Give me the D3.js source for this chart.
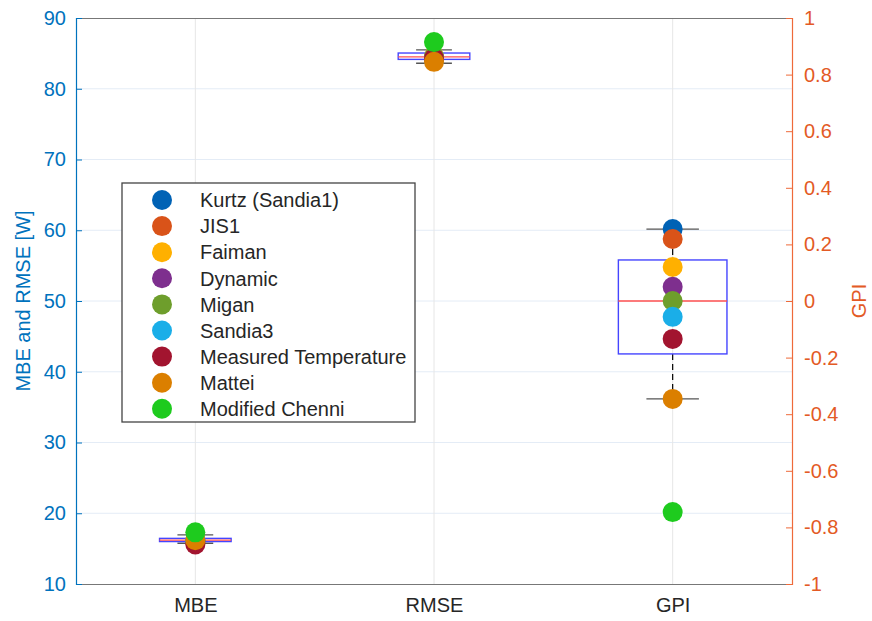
<!DOCTYPE html>
<html><head><meta charset="utf-8">
<script src="https://cdn.jsdelivr.net/npm/d3@7"></script>
<style>body{margin:0;background:#fff}svg{display:block;font-family:"Liberation Sans",Arial,sans-serif}</style>
</head><body><svg id="c" width="872" height="621"></svg>
<script>
const categories = ["MBE", "RMSE", "GPI"];
const models = ["Kurtz (Sandia1)", "JIS1", "Faiman", "Dynamic", "Migan", "Sandia3", "Measured Temperature", "Mattei", "Modified Chenni"];
const colors = ["#0062B5", "#D95319", "#FFB000", "#7E2F8E", "#6E9E2C", "#1AAEE8", "#A2142F", "#DB7F00", "#1ECB1E"];
const mbeValues = [16.1, 15.9, 16.3, 16.0, 16.1, 16.2, 15.6, 16.2, 17.3];
const rmseValues = [84.3, 84.2, 84.6, 84.4, 84.5, 84.0, 84.3, 83.8, 86.6];
const gpiValues = [0.254, 0.219, 0.12, 0.05, 0.0, -0.056, -0.134, -0.346, -0.746];
// box stats: [whiskerLow, q1, median, q3, whiskerHigh]
const mbeBox = [15.75, 16.0, 16.2, 16.45, 16.95];
const rmseBox = [83.6, 84.15, 84.5, 85.05, 85.5];
const gpiBox = [-0.346, -0.187, 0.0, 0.145, 0.254];
const leftTicks = [10, 20, 30, 40, 50, 60, 70, 80, 90];
const rightTicks = [-1, -0.8, -0.6, -0.4, -0.2, 0, 0.2, 0.4, 0.6, 0.8, 1];

const svg = d3.select("#c");
const L = 76, R = 792, T = 18, B = 584;
const x = d3.scaleLinear().domain([0.5, 3.5]).range([L, R]);
const yL = d3.scaleLinear().domain([10, 90]).range([B, T]);
const yR = d3.scaleLinear().domain([-1, 1]).range([B, T]);
const leftCol = "#0072BD", rightCol = "#EE6A3A", rightText = "#E35A25";
const FONT = "Liberation Sans, Arial";

// grid
const g = svg.append("g");
g.selectAll(".hg").data(leftTicks.slice(1, -1)).enter().append("line")
  .attr("x1", L).attr("x2", R).attr("y1", d => yL(d)).attr("y2", d => yL(d))
  .attr("stroke", "#E4ECF6").attr("stroke-width", 1);
g.selectAll(".vg").data([1, 2, 3]).enter().append("line")
  .attr("x1", d => x(d)).attr("x2", d => x(d)).attr("y1", T).attr("y2", B)
  .attr("stroke", "#E6E6E6").attr("stroke-width", 1);

// frame top/bottom
svg.append("line").attr("x1", L).attr("x2", R).attr("y1", T + 0.5).attr("y2", T + 0.5).attr("stroke", "#777");
svg.append("line").attr("x1", L).attr("x2", R).attr("y1", B + 0.5).attr("y2", B + 0.5).attr("stroke", "#777");

// boxes
const boxes = [
  {c: 1, s: mbeBox, y: yL, bw: 0.30, cw: 0.15},
  {c: 2, s: rmseBox, y: yL, bw: 0.30, cw: 0.15},
  {c: 3, s: gpiBox, y: yR, bw: 0.455, cw: 0.22}
];
boxes.forEach(b => {
  const [lo, q1, med, q3, hi] = b.s, y = b.y, cx = x(b.c);
  const hw = (x(b.bw) - x(0)) / 2, cw = (x(b.cw) - x(0)) / 2;
  svg.append("line").attr("x1", cx).attr("x2", cx).attr("y1", y(hi)).attr("y2", y(q3))
    .attr("stroke", "#000").attr("stroke-dasharray", "6,4").attr("stroke-width", 1.2);
  svg.append("line").attr("x1", cx).attr("x2", cx).attr("y1", y(q1)).attr("y2", y(lo))
    .attr("stroke", "#000").attr("stroke-dasharray", "6,4").attr("stroke-width", 1.2);
  [lo, hi].forEach(v => svg.append("line").attr("x1", cx - cw).attr("x2", cx + cw)
    .attr("y1", y(v)).attr("y2", y(v)).attr("stroke", "#555").attr("stroke-width", 1.4));
  svg.append("rect").attr("x", cx - hw).attr("y", y(q3)).attr("width", 2 * hw)
    .attr("height", Math.max(1, y(q1) - y(q3))).attr("fill", "none")
    .attr("stroke", "#4545FF").attr("stroke-width", 1.4);
  svg.append("line").attr("x1", cx - hw).attr("x2", cx + hw).attr("y1", y(med)).attr("y2", y(med))
    .attr("stroke", "#FF5050").attr("stroke-width", 1.4);
});

// points
const series = [
  {c: 1, v: mbeValues, y: yL},
  {c: 2, v: rmseValues, y: yL},
  {c: 3, v: gpiValues, y: yR}
];
series.forEach(s => {
  svg.append("g").selectAll("circle").data(s.v).enter().append("circle")
    .attr("cx", x(s.c)).attr("cy", d => s.y(d)).attr("r", 10)
    .attr("fill", (d, i) => colors[i]);
});

// left axis
const axL = svg.append("g").attr("transform", `translate(${L},0)`)
  .call(d3.axisLeft(yL).tickValues(leftTicks).tickSize(-6).tickPadding(10).tickFormat(d3.format("d")));
axL.select(".domain").attr("stroke", leftCol).attr("stroke-width", 1.2);
axL.selectAll(".tick line").attr("stroke", leftCol);
axL.selectAll(".tick text").attr("fill", leftCol).attr("font-size", 20).attr("font-family", FONT);

// right axis
const axR = svg.append("g").attr("transform", `translate(${R},0)`)
  .call(d3.axisRight(yR).tickValues(rightTicks).tickSize(-6).tickPadding(12));
axR.select(".domain").attr("stroke", rightCol).attr("stroke-width", 1.2);
axR.selectAll(".tick line").attr("stroke", rightCol);
axR.selectAll(".tick text").attr("fill", rightText).attr("font-size", 20).attr("font-family", FONT)
  .text(d => String(+d.toFixed(1)));

// bottom labels
const axB = svg.append("g").attr("transform", `translate(0,${B})`)
  .call(d3.axisBottom(x).tickValues([1, 2, 3]).tickSize(0).tickPadding(14).tickFormat((d, i) => categories[i]));
axB.select(".domain").remove();
axB.selectAll(".tick text").attr("fill", "#262626").attr("font-size", 20).attr("font-family", FONT);

// axis titles
svg.append("text").attr("transform", `translate(30,${(T + B) / 2}) rotate(-90)`)
  .attr("text-anchor", "middle").attr("fill", leftCol).attr("font-size", 20).text("MBE and RMSE [W]");
svg.append("text").attr("transform", `translate(866,${(T + B) / 2}) rotate(-90)`)
  .attr("text-anchor", "middle").attr("fill", rightText).attr("font-size", 20).text("GPI");

// legend
const lg = svg.append("g").attr("transform", "translate(122,183)");
lg.append("rect").attr("width", 293).attr("height", 239).attr("fill", "#fff").attr("stroke", "#444").attr("stroke-width", 1.3);
models.forEach((m, i) => {
  const yy = 17 + i * 26.1;
  lg.append("circle").attr("cx", 40).attr("cy", yy).attr("r", 10).attr("fill", colors[i]);
  lg.append("text").attr("x", 78).attr("y", yy).attr("dy", "0.36em").attr("font-size", 20)
    .attr("fill", "#262626").text(m);
});
</script></body></html>
